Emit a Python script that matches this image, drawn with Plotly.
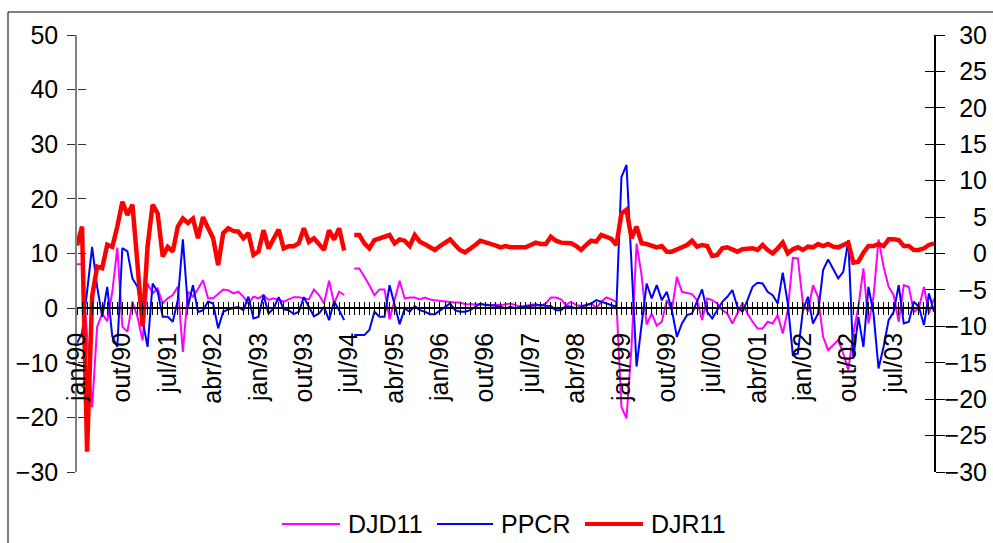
import plotly.graph_objects as go

# ---------------- data ----------------
MONTHS = ["jan", "fev", "mar", "abr", "mai", "jun", "jul", "ago", "set", "out", "nov", "dez"]
N_MONTHS = 171  # jan/90 .. mar/04
categories = [f"{MONTHS[i % 12]}/{(1990 + i // 12) % 100:02d}" for i in range(N_MONTHS)]
label_every = 9

DJD11 = [
    8.05, 8.05, -5.0, -18.2, -3.4, -1.0, -2.4, 3.0, 11.1, -3.4,
    -4.3, 1.2, -1.6, -5.9, 4.5, 2.7, 3.6, 0.85, 1.8, 2.4,
    3.9, -8.0, 3.0, 2.1, 3.5, 5.1, 1.8, 1.8, 2.6, 3.4,
    3.3, 2.7, 3.0, 2.1, 0.85, 2.1, 1.8, 2.4, 1.5, 1.8,
    1.5, 1.2, 1.6, 2.0, 2.0, 1.8, 1.6, 3.4, 2.4, 0.85,
    5.0, 0.85, 3.0, 2.4, None, 7.26, 7.26, 5.73, 4.2, 2.38,
    3.42, 3.42, -2.07, 1.5, 5.0, 1.77, 1.95, 1.95, 1.59, 1.95,
    1.59, 1.46, 1.34, 1.16, 1.16, 1.04, 1.04, 0.73, 0.73, 0.73,
    0.67, 0.67, 0.55, 0.67, 0.55, 0.73, 0.85, 0.55, 0.24, 0.43,
    0.55, 0.73, 0.43, 0.85, 1.95, 1.95, 1.59, 0.55, 1.16, 0.55,
    0.43, 0.55, 0.85, 0.06, 1.16, 1.95, 1.59, 1.16, -18.1, -20.2,
    -7.0, 11.8, 6.0, -3.0, -1.0, -3.2, -2.5, 1.46, -0.37, 5.74,
    2.99, 2.81, 2.56, 1.46, -2.2, 1.77, 1.46, 0.85, -0.37, -0.98,
    -2.81, -0.98, 0.98, -0.98, -2.5, -3.72, -3.72, -2.5, -2.81, -1.28,
    -4.64, -0.37, 9.2, 9.09, 0.85, -0.67, 4.2, 2.08, -5.25, -7.69,
    -6.77, -5.86, -8.3, -11.35, -4.64, 0.24, 7.26, -2.81, 2.08, 12.57,
    7.57, 3.9, 2.38, -2.5, 4.2, 3.9, -0.67, -0.06, 3.9, -0.98,
    1.77,
]

PPCR = [
    -6.4, -4.6, 3.0, 11.2, 3.9, -1.6, 3.9, -5.2, -7.1, 11.0,
    10.4, 5.4, 3.9, -2.2, -7.1, 4.5, 3.0, -1.6, -1.6, -2.5,
    1.5, 12.6, 0.25, 4.2, -0.7, -0.4, 1.2, 0.85, -3.7, -0.67,
    -0.24, -0.06, 0.24, -0.37, 2.1, -1.9, -1.6, 2.4, -0.98, -0.06,
    2.0, -0.24, -0.37, -1.1, -0.67, 2.0, 0.24, -1.5, -0.98, 0.24,
    -2.2, 1.2, -0.37, -2.2, None, -4.94, -4.94, -4.94, -4.0, -0.67,
    -1.59, -1.59, 4.2, 0.5, -2.93, -0.06, -0.67, 0.37, -0.37, -0.67,
    -1.1, -1.1, -0.49, 0.24, 0.85, -0.37, -0.67, -0.67, -0.37, 0.24,
    0.85, 0.55, 0.55, 0.43, 0.24, -0.06, 0.24, -0.06, 0.24, 0.24,
    0.43, 0.55, 0.55, 0.43, 0.37, -0.37, -0.37, 0.37, 0.24, -0.06,
    0.24, 0.55, 0.85, 1.46, 1.16, 0.85, 0.55, 0.24, 24.0, 26.2,
    8.0, -10.7, -3.0, 4.5, 1.77, 4.2, 1.46, 2.99, -0.37, -5.25,
    -2.81, -1.28, -0.98, 1.16, 3.42, -0.67, -1.89, -0.37, 1.16, 2.08,
    3.3, 0.24, -0.67, 1.46, 3.9, 4.64, 4.5, 2.99, 2.38, 0.85,
    6.47, 0.85, -8.6, -8.3, -0.37, 2.08, -2.81, -0.98, 6.96, 8.91,
    7.26, 5.43, 6.65, 12.45, -9.21, -1.59, -7.08, 3.9, -0.98, -11.05,
    -7.08, -2.2, -0.67, 4.2, -2.81, -2.5, 1.16, 0.24, -3.1, 2.68,
    -0.67,
]

DJR11 = [
    1.1, 3.7, -27.2, -5.9, -1.8, -2.0, 1.2, 0.9, 3.7, 7.1,
    5.3, 6.7, -1.5, -10.0, 1.0, 6.7, 5.5, -0.4, 0.9, 0.25,
    3.7, 4.8, 4.2, 4.8, 2.1, 5.0, 3.5, 2.1, -1.6, 2.8,
    3.46, 3.1, 3.0, 2.1, 2.8, -0.2, 0.25, 3.2, 0.7, 2.1,
    3.3, 0.7, 1.0, 1.0, 1.4, 3.46, 1.6, 2.1, 1.4, 0.5,
    3.2, 1.9, 3.46, 0.4, None, 2.54, 2.54, 1.4, 0.71, 1.85,
    2.08, 2.31, 2.54, 1.4, 1.94, 1.76, 1.03, 2.54, 1.63, 1.26,
    0.85, 0.48, 1.03, 1.49, 1.94, 1.17, 0.48, 0.16, 0.58, 1.17,
    1.76, 1.49, 1.31, 1.12, 0.85, 1.03, 0.85, 0.85, 0.85, 0.85,
    1.17, 1.49, 1.3, 1.3, 2.31, 1.76, 1.49, 1.4, 1.4, 1.03,
    0.48, 1.17, 1.76, 1.63, 2.54, 2.3, 2.0, 1.17, 5.5, 6.0,
    2.08, 3.68, 1.4, 1.3, 1.1, 0.85, 1.03, 0.25, 0.25, 0.48,
    0.85, 1.17, 1.76, 0.94, 1.17, 1.03, -0.34, -0.2, 0.71, 0.85,
    0.48, 0.25, 0.58, 0.58, 0.71, 0.48, 1.17, 0.48, 0.02, 0.71,
    1.49, 0.02, 0.58, 0.85, 0.48, 0.94, 0.85, 1.3, 1.03, 1.3,
    0.94, 0.85, 1.17, 1.49, -1.26, -1.12, 0.11, 1.03, 1.03, 1.3,
    1.03, 1.94, 1.94, 1.85, 1.03, 1.03, 0.48, 0.48, 0.71, 1.17,
    1.4,
]

assert len(DJD11) == N_MONTHS and len(PPCR) == N_MONTHS and len(DJR11) == N_MONTHS

left_range = [-30, 50]
right_range = [-30, 30]

# ---------------- figure ----------------
FONT = "Arial, 'Liberation Sans', sans-serif"
FS = 25
W, H = 993, 543
ML, MR, MT, MB = 77, 0, 35, 71
PLOT_RIGHT_PX = 934                      # right edge of the plotting area
PAPER_W = W - ML - MR
PAPER_H = H - MT - MB
x_dom_end = (PLOT_RIGHT_PX - ML) / PAPER_W

x_idx = list(range(N_MONTHS))
tick_text = [c if i % label_every == 0 else "" for i, c in enumerate(categories)]
x_cross = (0 - left_range[0]) / (left_range[1] - left_range[0])

fig = go.Figure()
fig.add_trace(go.Scatter(x=x_idx, y=DJD11, mode="lines", name="DJD11",
                         line=dict(color="#FF00FF", width=2), xaxis="x", yaxis="y"))
fig.add_trace(go.Scatter(x=x_idx, y=PPCR, mode="lines", name="PPCR",
                         line=dict(color="#0000FF", width=2), xaxis="x", yaxis="y"))
fig.add_trace(go.Scatter(x=x_idx, y=DJR11, mode="lines", name="DJR11",
                         line=dict(color="#FF0000", width=4.5), xaxis="x", yaxis="y2"))
# helper traces so the overlay axes (crossing ticks / right labels) are drawn
for ya in ("y3", "y4", "y5"):
    fig.add_trace(go.Scatter(x=[None], y=[None], xaxis="x2", yaxis=ya,
                             showlegend=False, hoverinfo="skip"))

xrange = [0, N_MONTHS - 1]
common_x = dict(range=xrange, domain=[0, x_dom_end], tickmode="array", tickvals=x_idx,
                showgrid=False, zeroline=False, anchor="free", position=x_cross,
                fixedrange=True, automargin=False)
noline = dict(showline=False, showgrid=False, zeroline=False, automargin=False)
fig.update_layout(
    width=W, height=H,
    margin=dict(l=ML, r=MR, t=MT, b=MB, autoexpand=False),
    paper_bgcolor="white", plot_bgcolor="white",
    font=dict(family=FONT, size=FS, color="black"),
    showlegend=False,
    xaxis=dict(**common_x, ticktext=tick_text, ticks="outside", ticklen=6, tickwidth=1,
               tickcolor="black", showline=True, linecolor="black", linewidth=1.5,
               tickangle=-90, tickfont=dict(size=FS), ticklabelstandoff=8),
    xaxis2=dict(**common_x, overlaying="x", ticks="inside", ticklen=6, tickwidth=1,
                tickcolor="black", showticklabels=False, showline=False),
    # left axis (DJD11, PPCR)
    yaxis=dict(range=left_range, dtick=10, tick0=0, ticks="outside", ticklen=8,
               tickcolor="#333333", showline=True, linecolor="#808080", linewidth=1.5,
               showgrid=False, zeroline=False, tickfont=dict(size=FS), ticklabelstandoff=4,
               fixedrange=True, automargin=False),
    yaxis3=dict(range=left_range, dtick=10, tick0=0, overlaying="y", anchor="free", position=0,
                side="left", ticks="inside", ticklen=8, tickcolor="#333333",
                showticklabels=False, **noline),
    # right axis (DJR11)
    yaxis2=dict(range=right_range, dtick=5, tick0=0, overlaying="y", side="right", anchor="x",
                ticks="outside", ticklen=9, tickcolor="black", showline=True, linecolor="black",
                linewidth=1.5, showgrid=False, zeroline=False, showticklabels=False,
                fixedrange=True, automargin=False),
    yaxis4=dict(range=right_range, dtick=5, tick0=0, overlaying="y", anchor="free",
                position=x_dom_end, side="right", ticks="inside", ticklen=9, tickcolor="black",
                showticklabels=False, **noline),
    # right-axis tick labels, right-aligned like the original
    yaxis5=dict(range=right_range, dtick=5, tick0=0, overlaying="y", anchor="free", position=1,
                side="left", ticks="", ticklen=0, showticklabels=True, tickfont=dict(size=FS),
                ticklabelstandoff=6, **noline),
)

# outer chart border (left and top edges visible)
def px_x(px):
    return (px - ML) / PAPER_W

def px_y(py):
    return (MT + PAPER_H - py) / PAPER_H

fig.add_shape(type="line", xref="paper", yref="paper", x0=px_x(8), x1=px_x(8),
              y0=px_y(12), y1=px_y(560), line=dict(color="black", width=1))
fig.add_shape(type="line", xref="paper", yref="paper", x0=px_x(8), x1=px_x(1010),
              y0=px_y(12), y1=px_y(12), line=dict(color="black", width=1))

# legend (drawn manually to match the long Excel legend keys)
legend_items = [("DJD11", "#FF00FF", 2, 282, 340, 347),
                ("PPCR", "#0000FF", 2, 437, 493, 500),
                ("DJR11", "#FF0000", 4, 585, 643, 650)]
ly = 524
for name, color, w, xa, xb, xt in legend_items:
    fig.add_shape(type="line", xref="paper", yref="paper", x0=px_x(xa), x1=px_x(xb),
                  y0=px_y(ly), y1=px_y(ly), line=dict(color=color, width=w))
    fig.add_annotation(xref="paper", yref="paper", x=px_x(xt), y=px_y(ly), text=name,
                       showarrow=False, xanchor="left", yanchor="middle",
                       font=dict(size=FS, color="black"), borderpad=0)

fig.write_html("out.html")
